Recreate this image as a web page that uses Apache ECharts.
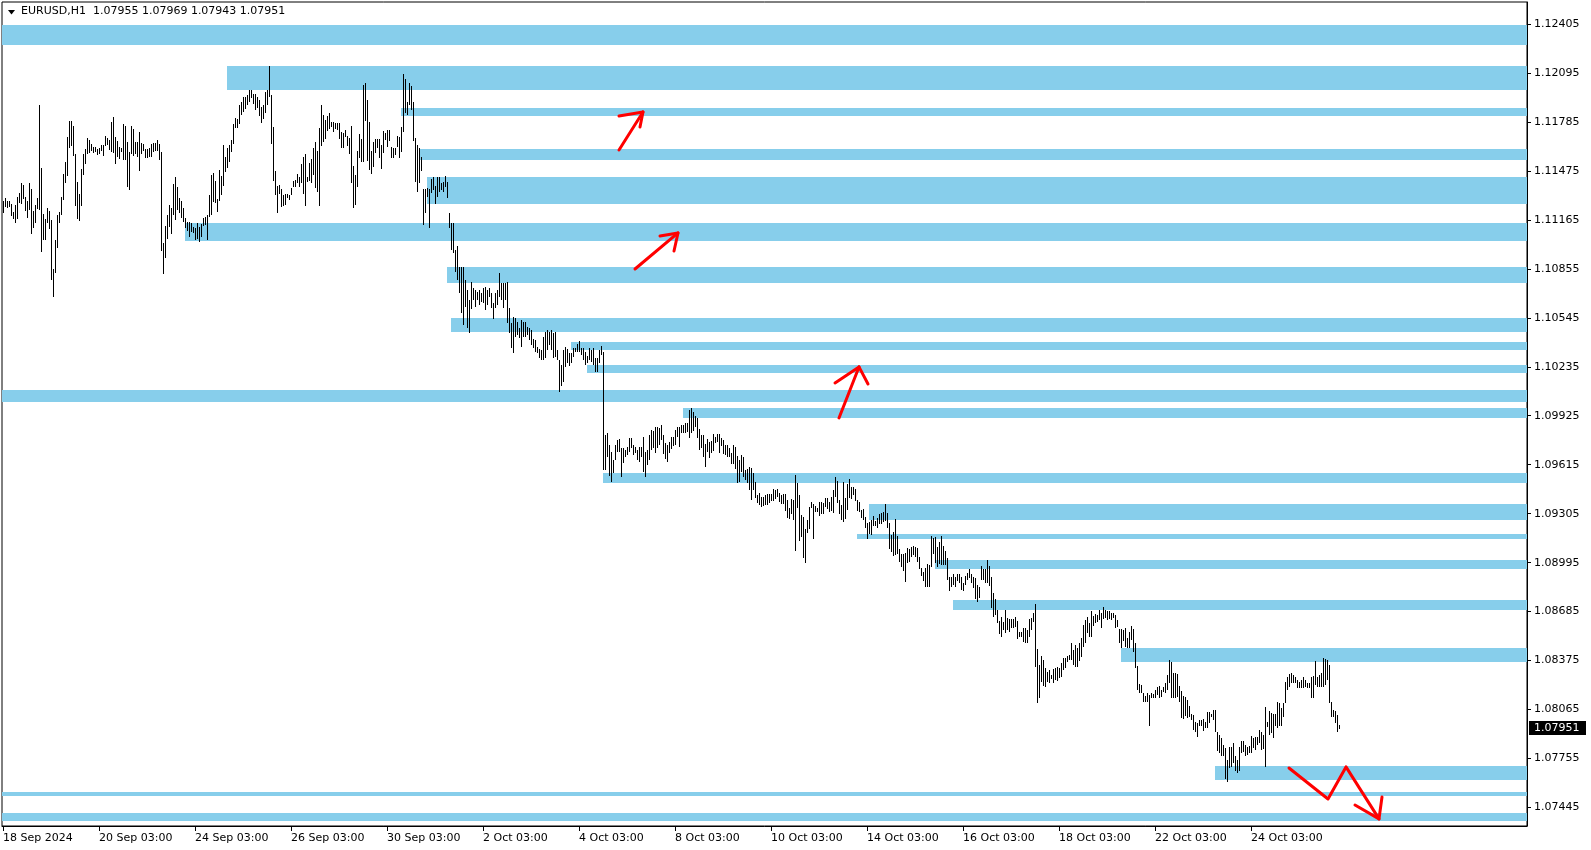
<!DOCTYPE html>
<html><head><meta charset="utf-8">
<script src="https://cdn.jsdelivr.net/npm/echarts@6/dist/echarts.min.js"></script>
<style>html,body{margin:0;padding:0;background:#fff}#c{width:1591px;height:850px}</style>
</head><body><div id="c"></div>
<script>
// ---- DATA ----
const symbolName = "EURUSD,H1";
const lastOHLC = [1.07955, 1.07969, 1.07943, 1.07951];
const xTickIndex = [0,48,96,144,192,240,288,336,384,432,480,528,576,624];
const xTickLabels = ["18 Sep 2024","20 Sep 03:00","24 Sep 03:00","26 Sep 03:00","30 Sep 03:00","2 Oct 03:00","4 Oct 03:00","8 Oct 03:00","10 Oct 03:00","14 Oct 03:00","16 Oct 03:00","18 Oct 03:00","22 Oct 03:00","24 Oct 03:00"];
const yTickValues = [1.07445,1.07755,1.08065,1.08375,1.08685,1.08995,1.09305,1.09615,1.09925,1.10235,1.10545,1.10855,1.11165,1.11475,1.11785,1.12095,1.12405];
const yMin = 1.07328, yMax = 1.12544;
const xMin = -0.5, xMax = 762;

const high = [
1.11284,1.11301,1.11286,1.11284,1.11265,1.11217,1.11259,1.11312,1.11333,1.11400,
1.11383,1.11312,1.11286,1.11398,1.11362,1.11221,1.11259,1.11303,1.11894,1.11493,
1.11202,1.11172,1.11240,1.11223,1.11166,1.10856,1.11037,1.11198,1.11214,1.11312,
1.11455,1.11533,1.11691,1.11790,1.11790,1.11761,1.11582,1.11406,1.11328,1.11489,
1.11582,1.11611,1.11683,1.11670,1.11647,1.11628,1.11628,1.11615,1.11620,1.11641,
1.11636,1.11698,1.11681,1.11670,1.11784,1.11816,1.11691,1.11662,1.11628,1.11622,
1.11774,1.11761,1.11660,1.11596,1.11761,1.11742,1.11660,1.11658,1.11721,1.11653,
1.11645,1.11613,1.11613,1.11622,1.11643,1.11653,1.11649,1.11668,1.11645,1.11594,
1.11018,1.11128,1.11193,1.11257,1.11242,1.11392,1.11436,1.11373,1.11305,1.11284,
1.11242,1.11179,1.11153,1.11153,1.11143,1.11122,1.11111,1.11143,1.11122,1.11138,
1.11176,1.11185,1.11193,1.11322,1.11449,1.11459,1.11413,1.11297,1.11482,1.11444,
1.11639,1.11565,1.11617,1.11639,1.11670,1.11774,1.11810,1.11801,1.11892,1.11909,
1.11945,1.11945,1.11955,1.11987,1.11987,1.11959,1.11959,1.11945,1.11926,1.11882,
1.11892,1.11972,1.11987,1.12139,1.11955,1.11755,1.11476,1.11381,1.11385,1.11360,
1.11320,1.11328,1.11328,1.11322,1.11366,1.11411,1.11419,1.11453,1.11438,
1.11519,1.11565,1.11582,1.11439,1.11525,1.11550,1.11620,1.11660,1.11603,1.11747,
1.11892,1.11829,1.11797,1.11823,1.11842,1.11787,1.11785,1.11780,1.11776,1.11780,
1.11723,1.11713,1.11734,1.11696,1.11685,1.11759,1.11506,1.11449,1.11603,1.11709,
1.11679,1.12019,1.12031,1.11924,1.11785,1.11601,1.11660,1.11677,1.11677,1.11677,
1.11639,1.11730,1.11715,1.11736,1.11732,1.11626,1.11620,1.11622,1.11696,1.11690,
1.11753,1.12088,1.12055,1.11911,1.12031,1.12015,1.11909,1.11683,1.11639,1.11620,
1.11565,1.11363,1.11363,1.11369,1.11358,1.11426,1.11434,1.11379,1.11439,1.11439,
1.11396,1.11407,1.11443,1.11407,1.11206,1.11143,1.11143,1.10974,1.11002,1.10869,
1.10869,1.10869,1.10784,1.10721,1.10658,1.10774,1.10732,1.10721,1.10711,1.10721,
1.10700,1.10732,1.10742,1.10721,1.10732,1.10700,1.10637,1.10700,1.10721,1.10827,
1.10763,1.10763,1.10768,1.10774,1.10605,1.10510,1.10552,1.10542,1.10521,1.10483,
1.10531,1.10521,1.10521,1.10489,1.10478,1.10468,1.10409,1.10405,1.10362,1.10350,
1.10341,1.10426,1.10457,1.10468,1.10457,1.10468,1.10447,1.10457,
1.10341,1.10278,1.10246,1.10341,1.10362,1.10345,1.10320,1.10324,1.10352,1.10356,
1.10379,1.10400,1.10352,1.10352,1.10326,1.10303,1.10352,1.10341,1.10352,1.10288,
1.10288,1.10341,1.10366,1.10331,1.09803,1.09814,1.09740,1.09698,1.09645,1.09740,
1.09771,1.09778,1.09719,1.09719,1.09708,1.09729,1.09782,1.09782,1.09740,1.09729,
1.09708,1.09729,1.09729,1.09792,1.09698,1.09708,1.09803,1.09835,1.09828,1.09852,
1.09856,1.09845,1.09864,1.09803,1.09750,1.09740,1.09761,1.09792,1.09792,1.09835,
1.09856,1.09856,1.09866,1.09866,1.09877,1.09877,1.09961,1.09972,1.09951,1.09925,
1.09909,1.09841,1.09803,1.09803,1.09744,1.09778,1.09761,1.09767,1.09809,1.09792,
1.09809,1.09809,1.09782,1.09771,1.09740,1.09740,1.09719,1.09687,1.09740,1.09729,
1.09670,1.09645,1.09676,1.09666,1.09582,1.09586,1.09603,1.09592,1.09560,1.09508,1.09423,
1.09434,1.09413,1.09413,1.09423,1.09428,1.09428,
1.09429,1.09459,1.09455,1.09461,1.09438,1.09423,1.09427,1.09427,1.09392,1.09339,
1.09396,1.09392,1.09550,1.09497,1.09423,1.09297,1.09282,1.09208,1.09265,1.09345,
1.09377,1.09366,1.09356,1.09339,1.09377,1.09377,1.09370,1.09402,1.09402,1.09381,
1.09408,1.09455,1.09535,1.09512,1.09392,1.09360,1.09503,1.09402,1.09493,1.09522,
1.09476,1.09476,1.09459,1.09392,1.09377,1.09328,1.09335,1.09282,1.09244,1.09254,
1.09265,1.09290,1.09261,1.09275,1.09301,1.09311,1.09318,1.09366,1.09307,1.09244,
1.09170,1.09187,1.09269,1.09164,1.09081,1.09050,1.09050,1.09058,1.09090,1.09081,
1.09092,1.09100,1.09096,1.09086,1.09033,1.08963,1.08934,1.08963,1.08986,1.08980,
1.09164,1.09149,1.09155,1.09096,1.09128,1.09164,1.09100,1.09069,1.09022,1.08906,
1.08906,1.08923,1.08902,1.08923,1.08923,1.08906,1.08868,1.08910,1.08932,1.08955,
1.08923,1.08906,1.08896,1.08853,1.08843,1.08974,1.08955,1.08955,1.09012,1.08976,
1.08906,1.08801,1.08765,1.08695,1.08626,1.08653,1.08621,1.08695,1.08647,1.08636,
1.08636,1.08638,1.08653,1.08628,1.08558,1.08558,1.08579,1.08579,1.08569,1.08636,
1.08642,1.08674,1.08733,1.08446,1.08347,
1.08401,1.08380,1.08327,1.08306,1.08316,1.08285,1.08321,1.08327,1.08333,1.08327,
1.08359,1.08390,1.08390,1.08405,1.08411,1.08489,1.08443,1.08475,1.08453,1.08489,
1.08517,1.08601,1.08633,1.08648,1.08612,1.08686,1.08658,1.08669,1.08664,1.08696,
1.08675,1.08713,1.08696,1.08686,1.08686,1.08675,1.08675,1.08664,1.08633,1.08574,
1.08574,1.08569,1.08580,1.08517,1.08559,1.08591,1.08574,1.08485,1.08342,1.08228,
1.08221,1.08169,1.08152,1.08169,1.08158,1.08169,1.08164,1.08190,1.08211,1.08215,
1.08190,1.08207,1.08232,1.08285,1.08380,1.08369,1.08299,1.08295,1.08291,1.08215,
1.08183,1.08152,1.08147,1.08126,1.08088,1.08038,1.08031,1.07989,1.07983,1.08000,
1.08000,1.08004,1.07989,1.08050,1.08050,1.08038,1.08063,1.08063,1.07920,1.07905,
1.07884,1.07842,1.07820,1.07747,1.07827,1.07827,1.07852,1.07768,1.07747,1.07827,
1.07863,1.07863,1.07842,1.07831,1.07835,1.07899,1.07884,1.07894,1.07894,1.07936,
1.07926,1.07905,1.08084,1.07989,1.08053,1.08042,1.08038,1.08038,1.08112,1.08105,
1.08074,1.08105,1.08242,1.08270,1.08291,1.08295,1.08285,1.08274,1.08253,1.08242,
1.08253,1.08274,1.08253,1.08232,1.08236,1.08274,1.08278,1.08373,1.08274,1.08285,
1.08295,1.08390,1.08386,1.08380,1.08348,1.08116,1.08063,1.08053,1.08031,1.07969
];
const low = [
1.11210,1.11244,1.11242,1.11248,1.11189,1.11172,1.11147,1.11172,1.11269,1.11263,
1.11295,1.11223,1.11174,1.11225,1.11077,1.11115,1.11147,1.11231,1.11229,1.10963,
1.11039,1.11039,1.11147,1.11109,1.10786,1.10679,1.10826,1.10989,1.11147,1.11198,
1.11288,1.11400,1.11444,1.11622,1.11630,1.11569,1.11255,1.11172,1.11160,1.11255,
1.11451,1.11520,1.11584,1.11586,1.11603,1.11590,1.11594,1.11575,1.11579,1.11598,
1.11571,1.11630,1.11636,1.11609,1.11594,1.11590,1.11520,1.11565,1.11548,1.11592,
1.11542,1.11544,1.11375,1.11356,1.11582,1.11571,1.11582,1.11565,1.11472,1.11584,
1.11601,1.11558,1.11558,1.11560,1.11560,1.11594,1.11601,1.11598,1.11544,1.10970,
1.10824,1.10921,1.11046,1.11122,1.11075,1.11198,1.11162,1.11229,1.11210,1.11179,
1.11151,1.11115,1.11096,1.11058,1.11090,1.11079,1.11039,1.11044,1.11027,1.11058,
1.11126,1.11132,1.11037,1.11185,1.11198,1.11280,1.11269,1.11217,1.11284,1.11322,
1.11379,1.11470,1.11491,1.11533,1.11596,1.11647,1.11748,1.11748,1.11774,1.11831,
1.11847,1.11864,1.11892,1.11911,1.11939,1.11896,1.11860,1.11871,1.11820,1.11780,
1.11801,1.11843,1.11892,1.11945,1.11647,1.11413,1.11322,1.11210,1.11326,1.11248,
1.11252,1.11257,1.11301,1.11288,1.11320,1.11371,1.11371,1.11396,1.11375,
1.11401,1.11331,1.11255,1.11407,1.11411,1.11396,1.11449,1.11369,1.11344,1.11255,
1.11635,1.11658,1.11679,1.11730,1.11740,1.11751,1.11723,1.11738,1.11734,1.11679,
1.11622,1.11622,1.11687,1.11635,1.11580,1.11401,1.11242,1.11259,1.11371,1.11555,
1.11533,1.11533,1.11793,1.11540,1.11481,1.11455,1.11502,1.11586,1.11622,1.11557,
1.11489,1.11586,1.11671,1.11628,1.11664,1.11559,1.11559,1.11576,1.11626,1.11559,
1.11593,1.11719,1.11839,1.11829,1.11892,1.11861,1.11666,1.11407,1.11344,1.11396,
1.11476,1.11133,1.11206,1.11312,1.11116,1.11337,1.11354,1.11265,1.11312,1.11344,
1.11354,1.11344,1.11371,1.11306,1.11112,1.10974,1.10953,1.10837,1.10784,1.10700,
1.10573,1.10500,1.10616,1.10478,1.10451,1.10599,1.10658,1.10616,1.10658,1.10626,
1.10647,1.10637,1.10595,1.10626,1.10679,1.10605,1.10540,1.10605,1.10626,1.10679,
1.10658,1.10605,1.10658,1.10510,1.10451,1.10352,1.10320,1.10426,1.10436,1.10415,
1.10362,1.10426,1.10426,1.10436,1.10405,1.10373,1.10352,1.10331,1.10320,1.10289,
1.10278,1.10278,1.10289,1.10341,1.10373,1.10341,1.10289,1.10299,
1.10278,1.10077,1.10115,1.10141,1.10236,1.10257,1.10242,1.10257,1.10299,1.10331,
1.10331,1.10331,1.10310,1.10278,1.10248,1.10257,1.10278,1.10267,1.10246,1.10204,
1.10204,1.10257,1.10309,1.09582,1.09582,1.09666,1.09546,1.09508,1.09560,1.09645,
1.09698,1.09698,1.09539,1.09628,1.09666,1.09676,1.09698,1.09719,1.09676,1.09687,
1.09645,1.09634,1.09666,1.09571,1.09539,1.09613,1.09645,1.09708,1.09719,1.09691,
1.09719,1.09740,1.09771,1.09681,1.09651,1.09634,1.09687,1.09712,1.09733,1.09740,
1.09792,1.09725,1.09814,1.09814,1.09814,1.09824,1.09782,1.09814,1.09831,1.09852,
1.09782,1.09708,1.09719,1.09662,1.09603,1.09698,1.09655,1.09687,1.09704,1.09750,
1.09761,1.09691,1.09733,1.09681,1.09676,1.09666,1.09666,1.09620,1.09620,1.09586,
1.09501,1.09508,1.09571,1.09539,1.09518,1.09501,1.09455,1.09392,1.09455,1.09402,1.09370,
1.09360,1.09350,1.09355,1.09362,1.09358,1.09370,
1.09387,1.09387,1.09396,1.09413,1.09381,1.09364,1.09366,1.09322,1.09275,1.09271,
1.09303,1.09265,1.09071,1.09339,1.09134,1.09160,1.09026,1.08995,1.09180,1.09206,
1.09339,1.09147,1.09318,1.09313,1.09292,1.09303,1.09303,1.09349,1.09332,1.09318,
1.09324,1.09307,1.09408,1.09375,1.09303,1.09265,1.09254,1.09271,1.09328,1.09402,
1.09398,1.09423,1.09387,1.09322,1.09318,1.09280,1.09265,1.09216,1.09145,1.09176,
1.09170,1.09227,1.09227,1.09212,1.09240,1.09240,1.09254,1.09259,1.09216,1.09079,
1.09064,1.09037,1.09043,1.09050,1.09001,1.08970,1.08944,1.08875,1.08995,1.09001,
1.09033,1.09043,1.09033,1.09001,1.08953,1.08913,1.08881,1.08843,1.08843,1.08843,
1.08965,1.09050,1.08991,1.08970,1.08984,1.08980,1.08980,1.08980,1.08885,1.08818,
1.08843,1.08853,1.08839,1.08879,1.08864,1.08822,1.08816,1.08853,1.08885,1.08896,
1.08864,1.08832,1.08763,1.08748,1.08769,1.08885,1.08885,1.08864,1.08864,1.08847,
1.08706,1.08653,1.08664,1.08611,1.08543,1.08526,1.08569,1.08552,1.08569,1.08558,
1.08579,1.08583,1.08590,1.08510,1.08522,1.08522,1.08495,1.08484,1.08488,1.08526,
1.08569,1.08621,1.08336,1.08104,1.08136,
1.08242,1.08215,1.08207,1.08242,1.08232,1.08257,1.08232,1.08253,1.08249,1.08264,
1.08270,1.08316,1.08327,1.08369,1.08379,1.08379,1.08348,1.08337,1.08337,1.08375,
1.08396,1.08460,1.08485,1.08548,1.08527,1.08527,1.08591,1.08612,1.08622,1.08633,
1.08580,1.08637,1.08643,1.08633,1.08637,1.08633,1.08643,1.08580,1.08586,1.08489,
1.08453,1.08496,1.08464,1.08453,1.08453,1.08506,1.08432,1.08327,1.08190,1.08169,
1.08169,1.08110,1.08110,1.08116,1.07958,1.08137,1.08137,1.08137,1.08158,1.08137,
1.08147,1.08179,1.08169,1.08190,1.08232,1.08137,1.08141,1.08141,1.08143,1.08116,
1.08010,1.08004,1.08025,1.08010,1.08021,1.08000,1.07936,1.07920,1.07894,1.07958,
1.07958,1.07932,1.07947,1.07947,1.07983,1.08017,1.08000,1.07920,1.07800,1.07789,
1.07768,1.07772,1.07624,1.07609,1.07694,1.07704,1.07725,1.07673,1.07666,1.07673,
1.07789,1.07799,1.07768,1.07778,1.07789,1.07793,1.07820,1.07810,1.07842,1.07852,
1.07810,1.07814,1.07700,1.07953,1.07905,1.07915,1.07884,1.07958,1.07947,1.07958,
1.07958,1.08017,1.08105,1.08190,1.08211,1.08232,1.08232,1.08232,1.08200,1.08200,
1.08200,1.08200,1.08211,1.08200,1.08200,1.08137,1.08137,1.08221,1.08211,1.08211,
1.08211,1.08207,1.08221,1.08253,1.08105,1.08021,1.08021,1.07979,1.07926,1.07943
];

// supply / demand zones: start bar index, top price, bottom price (extend to right edge)
const zoneStart  = [-0.5, 112, 199, 208, 212, 91, 222, 224, 284, 292, -0.5, 340, 300, 433, 427, 466, 475, 559, 606, -0.5, -0.5];
const zoneTop    = [1.12399,1.12139,1.11875,1.11614,1.11438,1.11147,1.10869,1.10546,1.10394,1.10247,1.10088,1.09972,1.09565,1.09367,1.09179,1.09012,1.08759,1.08455,1.07708,1.07544,1.07409];
const zoneBottom = [1.12274,1.11987,1.11823,1.11544,1.11266,1.11033,1.10767,1.10457,1.10341,1.10198,1.10014,1.09913,1.09501,1.09267,1.09147,1.08955,1.08696,1.08367,1.07619,1.07519,1.07360];

// hand-drawn red arrows: polylines in (bar index, price)
const arrowStrokes = [
  [[308,1.11607],[320,1.11848]],
  [[308,1.11823],[320,1.11848],[318.5,1.11753]],
  [[316,1.10854],[337.5,1.11082]],
  [[328.5,1.11063],[337.5,1.11082],[335.5,1.10968]],
  [[418,1.09911],[428,1.10234]],
  [[416,1.10133],[428,1.10234],[432.5,1.10126]],
  [[643,1.07695],[662.5,1.07499],[671.5,1.07702],[688,1.07373]],
  [[676,1.07461],[688,1.07373],[689.5,1.07512]]
];

// ---- CHART ----
const FONT = "DejaVu Sans";
const n = Math.min(high.length, low.length);
const barData = [];
for (let i = 0; i < n; i++) barData.push([i, low[i], high[i]]);
const zoneData = zoneStart.map((s, k) => [s, zoneTop[k], zoneBottom[k]]);

const chart = echarts.init(document.getElementById('c'), null, {renderer: 'canvas'});
const series = [
  {
    type: 'custom', z: 1, silent: true, clip: true,
    data: zoneData,
    encode: {x: 0, y: [1, 2]},
    renderItem: function (params, api) {
      const p1 = api.coord([api.value(0), api.value(1)]);
      const p2 = api.coord([xMax, api.value(2)]);
      const x = Math.round(p1[0]), y = Math.round(p1[1]);
      return {type: 'rect', shape: {x: x, y: y, width: Math.round(p2[0]) - x, height: Math.max(1, Math.round(p2[1]) - y)},
              style: {fill: '#87CEEB'}};
    }
  },
  {
    type: 'custom', z: 2, silent: true, clip: true,
    data: barData,
    encode: {x: 0, y: [1, 2]},
    renderItem: function (params, api) {
      const t = api.coord([api.value(0), api.value(2)]);
      const b = api.coord([api.value(0), api.value(1)]);
      const x = Math.round(t[0]), y = Math.round(t[1]);
      return {type: 'rect', shape: {x: x, y: y, width: 1, height: Math.max(1, Math.round(b[1]) - y)},
              style: {fill: '#000'}};
    }
  }
];
arrowStrokes.forEach(s => series.push({
  type: 'line', z: 3, silent: true, data: s, symbol: 'none', animation: false,
  lineStyle: {color: '#ff0000', width: 3, cap: 'round', join: 'round'}
}));

chart.setOption({
  animation: false,
  backgroundColor: '#fff',
  grid: {left: 2, right: 64, top: 2, bottom: 24, show: true, borderColor: '#000', borderWidth: 1, backgroundColor: 'transparent'},
  xAxis: {
    type: 'value', min: xMin, max: xMax,
    axisLine: {show: true, onZero: false, lineStyle: {color: '#000', width: 1}},
    splitLine: {show: false},
    axisTick: {show: true, length: 5, lineStyle: {color: '#000'}, customValues: xTickIndex},
    axisLabel: {
      customValues: xTickIndex, align: 'left', margin: 7,
      fontFamily: FONT, fontSize: 11, color: '#000',
      formatter: v => { const k = xTickIndex.indexOf(Math.round(v)); return k >= 0 ? xTickLabels[k] : ''; }
    }
  },
  yAxis: {
    type: 'value', position: 'right', min: yMin, max: yMax, scale: true,
    axisLine: {show: true, onZero: false, lineStyle: {color: '#000', width: 1}},
    splitLine: {show: false},
    axisTick: {show: true, length: 4, lineStyle: {color: '#000'}, customValues: yTickValues},
    axisLabel: {
      customValues: yTickValues, margin: 7,
      fontFamily: FONT, fontSize: 11, color: '#000',
      formatter: v => Number(v).toFixed(5)
    }
  },
  series: series
});

// header text & current price tag
const py = chart.convertToPixel({yAxisIndex: 0}, lastOHLC[3]);
chart.setOption({
  graphic: [
    {type: 'polygon', shape: {points: [[8, 10], [15, 10], [11.5, 14.5]]}, style: {fill: '#000'}},
    {type: 'text', left: 21, top: 6, style: {text: symbolName + '  ' + lastOHLC.map(v => v.toFixed(5)).join(' '),
      font: '11px "DejaVu Sans"', fill: '#000'}},
    {type: 'rect', shape: {x: 1529, y: Math.round(py) - 7, width: 57, height: 14}, style: {fill: '#000'}},
    {type: 'text', x: 1534, y: Math.round(py), style: {text: lastOHLC[3].toFixed(5), font: '11px "DejaVu Sans"',
      fill: '#fff', verticalAlign: 'middle'}}
  ]
});
</script>
</body></html>
